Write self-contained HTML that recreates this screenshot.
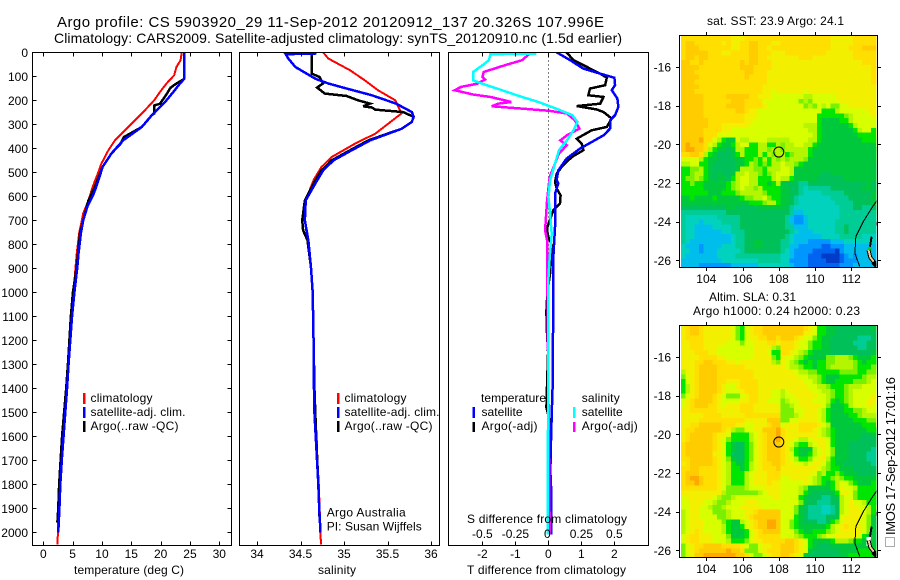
<!DOCTYPE html>
<html>
<head>
<meta charset="utf-8">
<title>Argo profile</title>
<style>
html,body{margin:0;padding:0;background:#fff;}
svg{display:block;}
text{font-family:"Liberation Sans",sans-serif;font-size:12px;fill:#000;}
</style>
</head>
<body>
<svg id="fig" xmlns="http://www.w3.org/2000/svg" width="900" height="580" viewBox="0 0 900 580">
<rect x="0" y="0" width="900" height="580" fill="#fff"/>
<defs>
<clipPath id="clipP1"><rect x="32.5" y="52.5" width="199" height="493"/></clipPath>
<clipPath id="clipP2"><rect x="239.5" y="52.5" width="200" height="493"/></clipPath>
<clipPath id="clipP3"><rect x="448.5" y="52.5" width="200" height="493"/></clipPath>
<clipPath id="clipM1"><rect x="681" y="36" width="195.5" height="231"/></clipPath>
<clipPath id="clipM2"><rect x="681" y="326" width="195.5" height="231"/></clipPath>
</defs>
<g id="heat1" clip-path="url(#clipM1)"></g>
<g id="heat2" clip-path="url(#clipM2)"></g>
<g id="coast1" clip-path="url(#clipM1)"></g>
<g id="coast2" clip-path="url(#clipM2)"></g>
<g id="lines1" clip-path="url(#clipP1)"></g>
<g id="lines2" clip-path="url(#clipP2)"></g>
<g id="lines3" clip-path="url(#clipP3)"></g>
<g id="axes" shape-rendering="crispEdges"></g>

<text x="57" y="27" style="font-size:15px" textLength="547" lengthAdjust="spacing">Argo profile: CS 5903920_29 11-Sep-2012 20120912_137 20.326S 107.996E</text>
<text x="54" y="43" style="font-size:14px" textLength="568" lengthAdjust="spacing">Climatology: CARS2009. Satellite-adjusted climatology: synTS_20120910.nc (1.5d earlier)</text>

<text x="74" y="574" textLength="110" lengthAdjust="spacing">temperature (deg C)</text>
<text x="318" y="574" textLength="38" lengthAdjust="spacing">salinity</text>
<text x="467" y="574" textLength="159" lengthAdjust="spacing">T difference from climatology</text>
<text x="467" y="523" textLength="160" lengthAdjust="spacing">S difference from climatology</text>

<g shape-rendering="crispEdges">
<rect x="83" y="393" width="2.5" height="11" fill="#f00"/>
<rect x="83" y="407" width="2.5" height="11" fill="#00f"/>
<rect x="83" y="421" width="2.5" height="11" fill="#000"/>
</g>
<text x="90.5" y="402" textLength="62" lengthAdjust="spacing">climatology</text>
<text x="90.5" y="416" textLength="95" lengthAdjust="spacing">satellite-adj. clim.</text>
<text x="90.5" y="430" textLength="88" lengthAdjust="spacing">Argo(..raw -QC)</text>

<g shape-rendering="crispEdges">
<rect x="337" y="393" width="2.5" height="11" fill="#f00"/>
<rect x="337" y="407" width="2.5" height="11" fill="#00f"/>
<rect x="337" y="421" width="2.5" height="11" fill="#000"/>
</g>
<text x="344.5" y="402" textLength="62" lengthAdjust="spacing">climatology</text>
<text x="344.5" y="416" textLength="95" lengthAdjust="spacing">satellite-adj. clim.</text>
<text x="344.5" y="430" textLength="88" lengthAdjust="spacing">Argo(..raw -QC)</text>
<text x="326.7" y="516.7" textLength="79" lengthAdjust="spacing">Argo Australia</text>
<text x="326.7" y="530.7" textLength="95" lengthAdjust="spacing">PI: Susan Wijffels</text>

<g shape-rendering="crispEdges">
<rect x="472.5" y="407" width="2.5" height="11" fill="#00f"/>
<rect x="472.5" y="422" width="2.5" height="10" fill="#000"/>
<rect x="573" y="407" width="2.5" height="11" fill="#0ff"/>
<rect x="573" y="422" width="2.5" height="10" fill="#f0f"/>
</g>
<text x="481" y="402" textLength="65" lengthAdjust="spacing">temperature</text>
<text x="481.5" y="416" textLength="41" lengthAdjust="spacing">satellite</text>
<text x="481.5" y="430" textLength="56" lengthAdjust="spacing">Argo(-adj)</text>
<text x="581.7" y="402" textLength="38" lengthAdjust="spacing">salinity</text>
<text x="581.7" y="416" textLength="41" lengthAdjust="spacing">satellite</text>
<text x="581.7" y="430" textLength="56" lengthAdjust="spacing">Argo(-adj)</text>

<text x="707" y="25" textLength="137" lengthAdjust="spacing">sat. SST: 23.9 Argo: 24.1</text>
<text x="709" y="301" textLength="87" lengthAdjust="spacing">Altim. SLA: 0.31</text>
<text x="693" y="315" textLength="167" lengthAdjust="spacing">Argo h1000: 0.24 h2000: 0.23</text>

<rect x="885.5" y="537.5" width="9" height="9" fill="none" stroke="#555" stroke-width="1" stroke-dasharray="1 1" shape-rendering="crispEdges"/>
<text transform="translate(895,535) rotate(-90)" x="0" y="0" style="font-size:13px" textLength="158" lengthAdjust="spacing">IMOS 17-Sep-2012 17:01:16</text>
</svg>

<script>
// ---------- depth profile data (depth in dbar) ----------
var climTDepth = [0,33,61,96,130,165,200,255,311,367,408,464,505,561,617,672,755,839,894,1000,1100,1200,1300,1400,1500,1600,1700,1800,1900,2000,2050];
var climT = [23.6,23.4,22.7,22.3,21.0,19.9,18.9,16.8,14.5,12.2,11.1,9.9,9.3,8.4,7.7,6.8,6.1,5.7,5.5,5.15,4.8,4.5,4.2,3.95,3.65,3.35,3.05,2.8,2.6,2.5,2.4];
var satTDepth = [0,111,130,158,200,255,311,367,422,478,533,589,644,700,755,839,894,1000,1100,1200,1300,1400,1500,1600,1700,1800,1900,2000];
var satT = [24.0,24.0,23.3,22.4,21.0,18.75,16.8,13.6,11.6,10.1,9.4,8.6,7.5,6.8,6.4,6.0,5.8,5.3,4.9,4.6,4.3,4.05,3.75,3.45,3.15,2.9,2.75,2.55];
var argoTDepth = [0,111,130,147,179,214,222,255,262,311,353,380,422,478,561,617,700,755,894,1000,1100,1200,1300,1400,1500,1600,1700,1800,1900,1960];
var argoT = [24.0,24.0,22.7,21.7,20.9,19.9,18.9,18.9,18.5,16.8,13.75,13.2,11.6,10.1,8.8,7.7,6.8,6.25,5.7,5.05,4.7,4.45,4.2,3.9,3.55,3.2,2.95,2.7,2.55,2.4];

var climSDepth = [0,26,75,117,158,200,255,297,339,380,436,478,533,617,700,783,894,1000,1100,1200,1300,1400,1500,1600,1700,1800,1900,2000,2050];
var climS = [34.76,34.82,35.07,35.24,35.39,35.59,35.66,35.51,35.36,35.13,34.86,34.74,34.65,34.56,34.55,34.58,34.62,34.64,34.645,34.65,34.655,34.66,34.67,34.685,34.695,34.71,34.72,34.73,34.735];
var satSDepth = [0,5,8,26,61,110,130,151,179,214,249,269,290,319,339,367,408,450,492,547,617,700,783,894,1000,1100,1200,1300,1400,1500,1600,1700,1800,1900,2000];
var satS = [34.67,34.67,34.33,34.36,34.44,34.67,34.82,35.03,35.32,35.6,35.78,35.8,35.78,35.66,35.51,35.3,35.09,34.88,34.76,34.67,34.56,34.55,34.59,34.62,34.64,34.645,34.65,34.65,34.655,34.66,34.675,34.69,34.705,34.715,34.73];
var argoSDepth = [0,89,103,130,147,172,182,200,214,225,230,239,249,269,290,319,339,367,408,450,492,547,617,700,742,783,894,1000,1200,1400,1600,1800,1950];
var argoS = [34.63,34.63,34.72,34.76,34.69,34.78,35.03,35.16,35.3,35.22,35.32,35.36,35.68,35.8,35.78,35.66,35.5,35.28,35.07,34.86,34.74,34.65,34.55,34.52,34.53,34.58,34.62,34.64,34.65,34.66,34.68,34.705,34.72];

var satTdiffDepth = [0,33,68,93,106,137,158,193,228,262,283,318,346,374,401,443,492,533,547,589,644,728,853,943,1383,1467,1661,1750,1840,1938,2010];
var satTdiff = [0.25,0.66,1.06,1.67,2.0,2.02,1.92,2.09,2.12,2.02,1.87,1.87,1.67,1.31,0.96,0.55,0.30,0.25,0.30,0.20,0.2,0.2,0.15,0.15,0.13,0.11,0.07,0.06,0.09,0.08,0.08];
var argoTdiffDepth = [0,33,89,106,137,151,179,186,214,224,238,249,276,311,325,360,381,408,436,478,506,540,568,596,631,658,735,769,804,922,1000,1080,1150,1250,1383,1480,1530,1750,2000];
var argoTdiff = [0.55,0.76,1.57,1.77,1.72,1.26,1.21,1.67,1.57,0.86,1.46,1.67,1.92,1.77,1.31,0.86,1.01,1.06,0.71,0.4,0.25,0.2,0.25,0.37,0.35,0.15,-0.05,0,0.1,0.05,-0.03,-0.06,-0.05,-0.01,-0.04,-0.06,0.03,0.03,0.03];
var satSdiffDepth = [5,8,33,54,82,117,131,158,179,207,235,262,290,325,367,408,464,533,603,672,756,853,943,2010];
var satSdiff = [-0.09,-0.44,-0.45,-0.5,-0.57,-0.57,-0.5,-0.35,-0.24,-0.076,0.06,0.18,0.22,0.19,0.14,0.08,0.05,0.013,0,0.013,0.025,0.01,0,-0.005];
var argoSdiffDepth = [5,33,54,82,103,114,131,144,158,176,186,207,214,225,235,244,255,283,318,346,367,387,422,478,519,617,742,783,943,2010];
var argoSdiff = [-0.14,-0.2,-0.33,-0.49,-0.5,-0.48,-0.54,-0.66,-0.71,-0.57,-0.44,-0.28,-0.38,-0.43,-0.19,0.01,0.14,0.2,0.235,0.14,0.09,0.14,0.08,0.04,0.01,-0.01,-0.025,-0.01,-0.008,0.01];

// ---------- axis tick data ----------
var depthTicks = [0,100,200,300,400,500,600,700,800,900,1000,1100,1200,1300,1400,1500,1600,1700,1800,1900,2000];
var tempTicks = [0,5,10,15,20,25,30];
var salTicks = [34,34.5,35,35.5,36];
var tDiffTicks = [-2,-1,0,1,2];
var sDiffTicks = [-0.5,-0.25,0,0.25,0.5];
var lonTicks = [104,106,108,110,112];
var latTicks = [-16,-18,-20,-22,-24,-26];

// ---------- map data: one hex digit per 0.25 degree cell, level 0 (coldest/lowest) to f (warmest/highest) ----------
var gridLonStart = 102.6;
var gridLatStart = -14.4;
var gridStep = 0.25;
var argoLon = 108;
var argoLat = -20.4;
var sstRows = [
"ddddddddddd"+"cccdddddddd"+"ddddddddddd"+"cccccdddddd",
"deeddddddcd"+"ccddeedddcc"+"ddddddddddd"+"cccccdddddd",
"deeeddddddd"+"ccddeeddcdd"+"ddddddddddd"+"ccccdddeeee",
"deeeeedddcc"+"ddddeedddcc"+"cdddddddddc"+"cccccdddddd",
"deedeeddddd"+"ddddeeddccc"+"ccccdddcccc"+"cccccdddddd",
"eeddedddddd"+"ddedeedddcc"+"ccccccccccc"+"cccccccdddd",
"eeeeddddddd"+"ddeeeddddcc"+"ccccccccccc"+"cccccccccdd",
"eeedddddddd"+"dddeedddccc"+"ccccccccccc"+"cccccccccdd",
"eeeeddddddd"+"dddeddddccc"+"ccccccccccc"+"cccccccccdd",
"eeedddddddd"+"ddddddddccc"+"ccccccccccc"+"cccccccccdd",
"eeeeddddddd"+"dddddddcccc"+"ccccccccccc"+"ccccccccccc",
"eeedddddddd"+"dddddddccbc"+"cccccbccccc"+"ccccccccccc",
"eeeeeddddde"+"eeeeddcccbb"+"bbbbbaabbbb"+"bcccccccccc",
"eeeeedddddd"+"eeeddddbbbb"+"bbbb9a9bbbb"+"bbccccccccc",
"eeeeeddddde"+"eeeddddcbbb"+"bbbbb9a9bab"+"99bbccccccc",
"eeeeedddddd"+"deedccbbbbb"+"bbbbbbbbb88"+"8abbbbbbccc",
"eeeeedddddd"+"dddcccbbbbb"+"bbbbbbbb888"+"8889abbbbcc",
"eeeeeeddddd"+"dddccbbbbbb"+"bbbbbbbb877"+"7788abbbbbb",
"eeeeeedddcc"+"ccccbbbbbbb"+"bbbbbaaa877"+"77778abbbbb",
"eeeeeddddcc"+"bbbbbbbbbbb"+"bbbbbbaa877"+"777778abb8a",
"eeeeedddbbb"+"bbbbbbbbbbb"+"bbbbbbba877"+"7777778888a",
"eeeefddba87"+"7baabbbbaaa"+"aabbbbaa877"+"77777778889",
"efeeedba877"+"8abb88aa88a"+"9aabbaa8777"+"77777777779",
"effeeda8776"+"7aa888aa9aa"+"9aaaaa87777"+"77777777778",
"ddeeda87666"+"78a888a8a9a"+"a89aaa87777"+"77777777778",
"bbbba877666"+"6778898a8a9"+"a9aaa977777"+"77777777778",
"aabb8876666"+"6778a9898aa"+"baa98777777"+"77777777777",
"8899a876666"+"67aaa998aaa"+"bba77777777"+"77777777777",
"889aa876766"+"7aabaa989ab"+"bba77777766"+"77777777777",
"899a9876776"+"8abbaa888ab"+"aa877777666"+"66677777777",
"88988777778"+"9abbaa8878a"+"76665566666"+"66666666767",
"88888777778"+"9abaa9a8888"+"77665455555"+"66666667767",
"88888877788"+"89aaaaa9888"+"77665444455"+"55566666677",
"77877778777"+"77899aab988"+"77654444444"+"55556666677",
"77777777777"+"77778889aa8"+"77654444444"+"45555666677",
"66666666667"+"76666677777"+"76544444444"+"44555665566",
"55555555556"+"66666666666"+"66533444444"+"44555555556",
"54444444555"+"55666666666"+"65322344444"+"44555555555",
"54443444455"+"55666666666"+"65322344444"+"45555555555",
"54433334444"+"55666666666"+"65533344444"+"45565555554",
"54433333344"+"55566666666"+"66543334444"+"45565555554",
"54433333333"+"45566666666"+"65433333344"+"44555554444",
"54333333333"+"45566776666"+"55433322222"+"33344444443",
"43332333344"+"45566776666"+"55332222211"+"22233333333",
"44332333444"+"44566666666"+"54322221111"+"10233333333",
"43333333444"+"45555555555"+"44322211100"+"00123233333",
"33333333344"+"44444455555"+"44222211110"+"00122233333",
"33332222222"+"33333344444"+"44322211111"+"11222333333"
];
var slaRows = [
"cdeedcccccc"+"b98bcddeeee"+"eeeeedcb887"+"76666666677",
"cdeedcccccc"+"b98bcddeeee"+"eeeeeccb887"+"76666666666",
"cddddcccccc"+"b98bccddeed"+"eeedcbb9877"+"66666655566",
"ccdddcccccb"+"bb9bbcccddc"+"dddcbb98877"+"66666555666",
"ccdddcccbbb"+"bbbbbcccca9"+"dddcbb98877"+"66666655666",
"cccdddccbbb"+"bbbbbcccb88"+"ddcba987777"+"66666666677",
"ccccddddccb"+"bbbbbcccc98"+"cbba9877779"+"9aaa9877788",
"cccddeedddc"+"cbccccccca9"+"cba98787889"+"9aaaa987888",
"cccdeeeeddd"+"dddcccccccc"+"cbaa9887889"+"aaaaa988899",
"accdeeeeddd"+"dddddcccccc"+"cccbaa99888"+"8899998899a",
"9bcdeeeeddd"+"dddddcccccc"+"ccccbbaa987"+"77888889aab",
"8bcdeeeeddc"+"ccddddccccc"+"cccccbba987"+"78888999abb",
"8acdeeeedcb"+"bcddddccccc"+"ccccccbbaa9"+"8889aaabbbb",
"8acdeeeedcb"+"bbcdddcccbb"+"abcccccbbaa"+"9889abbbbbb",
"9bcdeeedcb9"+"99bcddcccbb"+"abbcccccbba"+"9889abbbbcc",
"bcdeeeedcbb"+"bbccddccbbb"+"9abbcccbbba"+"8789abbbccc",
"bcdeeeddcbc"+"ccdddcccccc"+"99abcccccb9"+"7778abbbcbb",
"ccddddddccc"+"ccdddcccccc"+"999bbcccba8"+"7778899abbb",
"cccccddddcc"+"cccdddddddd"+"999abcccba8"+"7777889aaaa",
"ccccddddddd"+"dddccccceee"+"99bbccccba8"+"7777788899a",
"ccddeeeeedd"+"dccbbcccdee"+"bcccddddcba"+"7777777888a",
"cddeeeeeedc"+"a99bbcceeef"+"dcccdddcba9"+"87777777888",
"cdeeeeedccb"+"8888abcdeef"+"dcccccccba9"+"87777776677",
"cdeeeeedcb9"+"8888abcdeef"+"dccbaabcccb"+"87777766666",
"deeeeeedcb8"+"76689bcdeee"+"dcb988abccb"+"87776666666",
"deeeeeedcb8"+"76689bcdeee"+"dca8777abcb"+"97776666655",
"deeeeeeccb8"+"66689bcdeee"+"dcb8778abcb"+"97776666555",
"ddeeeeedcb9"+"76689bcdeee"+"dcba889bcca"+"87776666555",
"cdeeeeedcba"+"8778abcddee"+"dccbbabccb9"+"87766666655",
"ddeeddddcba"+"8878abcddde"+"ccccccccba9"+"88777666666",
"deeeddddcba"+"888abcccddd"+"cccccccb9a8"+"89877766667",
"deffedddcba"+"888abcccddd"+"bbccccba988"+"9a988777778",
"deefedddcba"+"888abcccdcc"+"bbbbbcba987"+"8abb9877788",
"ddddddddcb9"+"999abbbcccc"+"bbbba977777"+"8acbba88888",
"ccccccccca9"+"999999abccc"+"bbbba876666"+"78bcb988888",
"bccccccba99"+"abbbbbbbbcc"+"bbbb8766655"+"67abb988888",
"bbcccbba99a"+"bbbcccbbbbb"+"bbbb9766555"+"66abcbba888",
"bbccbba99ab"+"bbcccccbbbb"+"bbb97655544"+"56abccbba89",
"abccbbb999a"+"bbbccdeeeee"+"bbb97655544"+"56abcccba88",
"abccbbbb99a"+"bbbcdeeeeee"+"bbb87655556"+"67bccccb977",
"abcccbbbb98"+"77abcdeeffe"+"bb987666556"+"89bcccbb977",
"abcccbbbba8"+"778bcdeeffe"+"bb987777778"+"abcdcccb977",
"abcdcbbbba8"+"7778bcdeeee"+"bbb98778889"+"abcccccb977",
"bcddcccbbb9"+"7778bcddddd"+"bbba98889ab"+"bcccccb8776",
"bcddcccbbba"+"8889bccdddd"+"deedcb87777"+"8aaa9887776",
"9bcddeeeedd"+"ddcb99bccdd"+"eeedcb87666"+"77777777777",
"9bcdeeeeeef"+"eed999bcddd"+"eeedcb76666"+"66777788888",
"9bceeffffff"+"feedb99bcdd"+"eedcb766666"+"66778888888"
];
var coastLon = [113.43,113.12,112.66,112.25,112.2,112.47];
var coastLat = [-22.88,-23.31,-24.0,-24.78,-25.64,-26.33];
var islandLon = [113.12,113.03];
var islandLat = [-24.78,-25.3];
var shoreLon = [112.95,113.05,113.3];
var shoreLat = [-25.47,-25.85,-26.15];
var blobLon = [113.2,113.4];
var blobLat = [-26.1,-26.3];
var edgeLon = [113.42,113.42];
var edgeLat = [-24.02,-24.2];

// ---------- rendering ----------
var NS = 'http://www.w3.org/2000/svg';
function mk(parent, tag, attrs) {
  var el = document.createElementNS(NS, tag);
  for (var k in attrs) { el.setAttribute(k, attrs[k]); }
  parent.appendChild(el);
  return el;
}
var PLOT_TOP = 52.5, PLOT_BOTTOM = 545.5;
function depthY(d) { return 52.3 + d * 0.24; }
function tempX(t) { return 43.3 + t * 5.867; }
function salX(s) { return 257 + (s - 34) * 87; }
function tDiffX(t) { return 548.4 + t * 33; }
function sDiffX(s) { return 548.4 + s * 132; }
function lonX(l) { return 706.3 + (l - 104) * 18.125; }
function latY(l, off) { return off + 67 + (-16 - l) * 19.33; }
function pts(xs, ys, fx, fy) {
  var out = [];
  for (var i = 0; i < xs.length; i++) { out.push(fx(xs[i]).toFixed(2) + ',' + fy(ys[i]).toFixed(2)); }
  return out.join(' ');
}
function drawProfile(groupId, values, depths, xFn, color, width, name) {
  var el = mk(document.getElementById(groupId), 'polyline', {
    points: pts(values, depths, xFn, depthY), fill: 'none', stroke: color,
    'stroke-width': width, 'stroke-linejoin': 'miter', 'shape-rendering': 'crispEdges'
  });
  
  
}
drawProfile('lines1', climT, climTDepth, tempX, '#f00', 2, 'temperature-climatology-line');
drawProfile('lines1', argoT, argoTDepth, tempX, '#000', 2.5, 'temperature-argo-line');
drawProfile('lines1', satT, satTDepth, tempX, '#00f', 2.5, 'temperature-satellite-line');
drawProfile('lines2', climS, climSDepth, salX, '#f00', 2, 'salinity-climatology-line');
drawProfile('lines2', argoS, argoSDepth, salX, '#000', 2.5, 'salinity-argo-line');
drawProfile('lines2', satS, satSDepth, salX, '#00f', 2.5, 'salinity-satellite-line');

var zeroLine = mk(document.getElementById('lines3'), 'line', {
  x1: 548.5, x2: 548.5, y1: PLOT_TOP, y2: PLOT_BOTTOM, stroke: '#000', 'stroke-width': 1,
  'stroke-dasharray': '1 3', 'shape-rendering': 'crispEdges'
});


drawProfile('lines3', argoTdiff, argoTdiffDepth, tDiffX, '#000', 2.5, 't-difference-argo-line');
drawProfile('lines3', satTdiff, satTdiffDepth, tDiffX, '#00f', 2.5, 't-difference-satellite-line');
drawProfile('lines3', argoSdiff, argoSdiffDepth, sDiffX, '#f0f', 2.5, 's-difference-argo-line');
drawProfile('lines3', satSdiff, satSdiffDepth, sDiffX, '#0ff', 2.5, 's-difference-satellite-line');

// frames, ticks and tick labels
var axes = document.getElementById('axes');
function frame(x0, x1, y0, y1, name) {
  var r = mk(axes, 'rect', { x: x0, y: y0, width: x1 - x0, height: y1 - y0, fill: 'none', stroke: '#000', 'stroke-width': 1 });
  
  
}
function tick(x1, y1, x2, y2) {
  var t = mk(axes, 'line', { x1: x1, y1: y1, x2: x2, y2: y2, stroke: '#000', 'stroke-width': 1 });
  
  
}
function label(x, y, str, anchor) {
  var t = mk(axes, 'text', { x: x, y: y, 'text-anchor': anchor, 'shape-rendering': 'auto' });
  t.textContent = str;
  
  
}
function xAxis(x0, x1, ticks, fn, labelY, showLabels) {
  ticks.forEach(function (v) {
    var x = Math.round(fn(v)) + 0.5;
    tick(x, PLOT_TOP, x, PLOT_TOP + 4);
    tick(x, PLOT_BOTTOM, x, PLOT_BOTTOM - 4);
    if (showLabels) { label(fn(v), labelY, String(v), 'middle'); }
  });
}
frame(32.5, 231.5, PLOT_TOP, PLOT_BOTTOM, 'temperature-plot-frame');
frame(239.5, 439.5, PLOT_TOP, PLOT_BOTTOM, 'salinity-plot-frame');
frame(448.5, 648.5, PLOT_TOP, PLOT_BOTTOM, 'difference-plot-frame');
xAxis(32.5, 231.5, tempTicks, tempX, 558, true);
xAxis(239.5, 439.5, salTicks, salX, 558, true);
xAxis(448.5, 648.5, tDiffTicks, tDiffX, 558, true);
sDiffTicks.forEach(function (v) { label(sDiffX(v) - (v === 0 ? 1 : 0), 538, String(v), 'middle'); });
depthTicks.forEach(function (d) {
  var y = Math.round(depthY(d)) + 0.5;
  tick(32.5, y, 36.5, y);
  tick(231.5, y, 227.5, y);
  label(28, depthY(d) + 4.5, String(d), 'end');
});

// heatmaps
var levelColors = ['#003cc8','#0064f0','#0096ff','#00beeb','#00d2be','#00cc96','#00c05a','#00c83c','#00e600','#78f000','#b4f500','#d7ff00','#f2f000','#ffdf00','#ffcc00','#ffa800'];
function drawHeat(groupId, rows, off, name) {
  var g = document.getElementById(groupId);
  rows.forEach(function (row, r) {
    for (var c = 0; c < row.length; c++) {
      var lon = gridLonStart + c * gridStep;
      var lat = gridLatStart - r * gridStep;
      var level = parseInt(row.charAt(c), 16);
      var x0 = lonX(lon), x1 = lonX(lon + gridStep);
      var y0 = latY(lat, off), y1 = latY(lat - gridStep, off);
      var cell = mk(g, 'rect', { x: x0.toFixed(2), y: y0.toFixed(2), width: (x1 - x0).toFixed(2), height: (y1 - y0).toFixed(2), fill: levelColors[level], 'shape-rendering': 'crispEdges' });
      
      
    }
  });
}
drawHeat('heat1', sstRows, 0, 'sst-cell');
drawHeat('heat2', slaRows, 290, 'sla-cell');

// coastline overlay and map frames
function drawPath(groupId, lons, lats, off, color, width, name) {
  var el = mk(document.getElementById(groupId), 'polyline', {
    points: pts(lons, lats, lonX, function (l) { return latY(l, off); }),
    fill: 'none', stroke: color, 'stroke-width': width, 'shape-rendering': 'crispEdges'
  });
  
  
}
var maskA = mk(document.getElementById('coast1'), 'rect', { x: lonX(112.9), y: latY(-25.3, 0), width: 4, height: 5, fill: '#00c83c', 'shape-rendering': 'crispEdges' });


var maskB = mk(document.getElementById('coast2'), 'rect', { x: lonX(112.85), y: latY(-25.3, 290), width: 4.5, height: 9, fill: '#fff', 'shape-rendering': 'crispEdges' });


[['coast1', 0], ['coast2', 290]].forEach(function (m) {
  drawPath(m[0], coastLon, coastLat, m[1], '#000', 1, 'coastline');
  drawPath(m[0], islandLon, islandLat, m[1], '#000', 2, 'island-coast');
  drawPath(m[0], shoreLon, shoreLat, m[1], '#000', 4, 'shore-outline');
  drawPath(m[0], shoreLon, shoreLat, m[1], '#f5c896', 2, 'shore-strip');
  drawPath(m[0], blobLon, blobLat, m[1], '#000', 4, 'shore-blob');
  drawPath(m[0], edgeLon, edgeLat, m[1], '#000', 2, 'edge-coast');
});

[0, 290].forEach(function (off) {
  frame(679.5, 877.5, off + 35.5, off + 267.5, off ? 'sla-map-frame' : 'sst-map-frame');
  lonTicks.forEach(function (v) {
    var x = Math.round(lonX(v)) + 0.5;
    tick(x, off + 35.5, x, off + 32);
    tick(x, off + 267.5, x, off + 271);
    label(lonX(v), off + 283, String(v), 'middle');
  });
  latTicks.forEach(function (v) {
    var y = Math.round(latY(v, off)) + 0.5;
    tick(679.5, y, 676, y);
    tick(877.5, y, 881, y);
    label(671, latY(v, off) + 4.5, String(v), 'end');
  });
  var marker = mk(axes, 'circle', { cx: lonX(argoLon), cy: latY(argoLat, off), r: 5, fill: 'none', stroke: '#000', 'stroke-width': 1, 'shape-rendering': 'auto' });
  
  
});
</script>
</body>
</html>
